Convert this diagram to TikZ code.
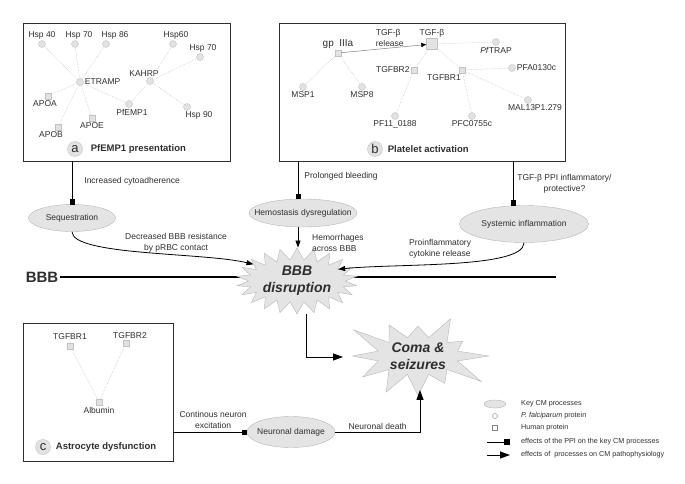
\documentclass[tikz,border=0pt]{standalone}
\usepackage{fontspec}
\setmainfont{Liberation Sans}
\usetikzlibrary{arrows.meta, positioning, shapes.geometric, shapes.symbols, calc}

\definecolor{nodegray}{HTML}{E2E2E2}
\definecolor{nodeedge}{HTML}{C2C2C2}
\definecolor{procgray}{HTML}{E4E4E4}
\definecolor{procedge}{HTML}{B5B5B5}
\definecolor{linkgray}{HTML}{BBBBBB}
\definecolor{inkgray}{HTML}{2E2E2E}

\newcommand{\smallfont}{\fontsize{8.5}{11}\selectfont}
\newcommand{\legendfont}{\fontsize{7.2}{8.5}\selectfont}

\begin{document}
\begin{tikzpicture}[x=1pt, y=-1pt,
    pf/.style={circle, fill=nodegray, draw=nodeedge, minimum size=7pt, inner sep=0pt},
    hu/.style={rectangle, fill=nodegray, draw=nodeedge, minimum size=6pt, inner sep=0pt},
    lbl/.style={font=\smallfont, text=inkgray, inner sep=1pt},
    ppi/.style={draw=linkgray, densely dotted, line width=0.5pt},
    panel/.style={draw=inkgray, line width=0.9pt, inner sep=0pt},
    tag/.style={circle, fill=nodegray, draw=nodeedge, minimum size=15pt, inner sep=0pt, font=\fontsize{13}{13}\selectfont, text=inkgray},
    title/.style={font=\fontsize{9.5}{11}\selectfont\bfseries, text=inkgray, inner sep=0pt},
    proc/.style={ellipse, fill=procgray, draw=procedge, inner sep=0pt},
    effect/.style={draw=black, line width=0.8pt, -{Square[length=5pt, width=5pt]}},
    cause/.style={draw=black, line width=0.8pt, -{Triangle[length=7pt, width=5pt]}},
    bigcause/.style={draw=black, line width=0.9pt, -{Triangle[length=10pt, width=7pt]}},
    burst/.style={starburst, fill=procgray, draw=procedge, font=\fontsize{14}{17}\selectfont\bfseries\itshape, text=inkgray, align=center, inner sep=0pt},
    legend/.style={font=\legendfont, text=inkgray, anchor=west, inner sep=0pt}
]
\useasboundingbox (0,0) rectangle (685,484);

% Panel a: PfEMP1 presentation
\node[panel, minimum width=207pt, minimum height=138pt] (pa) at (126.5,92) {};
\node[pf, label={[lbl]right:ETRAMP}] (etramp) at (80,82) {};
\node[pf, label={[lbl, xshift=-6pt]above:KAHRP}] (kahrp) at (150,81) {};
\node[pf, label={[lbl]above:Hsp 40}] (hsp40) at (42,44) {};
\node[pf, label={[lbl, xshift=4pt]above:Hsp 70}] (hsp70) at (75,44) {};
\node[pf, label={[lbl, xshift=9pt]above:Hsp 86}] (hsp86) at (106,44) {};
\node[pf, label={[lbl, xshift=3pt]above:Hsp60}] (hsp60) at (173,44) {};
\node[pf, label={[lbl, xshift=3pt]above:Hsp 70}] (hsp70b) at (200,57) {};
\node[pf, label={[lbl, xshift=12pt]below:Hsp 90}] (hsp90) at (187,107) {};
\node[pf, label={[lbl, xshift=3pt]below:PfEMP1}] (pfemp) at (129,104) {};
\node[hu, label={[lbl, xshift=-3pt]below:APOA}] (apoa) at (48,96) {};
\node[hu, label={[lbl]below:APOE}] (apoe) at (92,118) {};
\node[hu, label={[lbl, xshift=-7pt]below:APOB}] (apob) at (58,127) {};
\foreach \n in {hsp40, hsp70, hsp86, apoa, apob, apoe, pfemp}
    \draw[ppi] (etramp) -- (\n);
\foreach \n in {hsp60, hsp70b, hsp90, pfemp}
    \draw[ppi] (kahrp) -- (\n);
\node[tag] (taga) at (75,149) {a};
\node[title, right=8pt of taga] (titlea) {PfEMP1 presentation};

% Panel b: Platelet activation
\node[panel, minimum width=286pt, minimum height=138pt] (pb) at (422,92) {};
\node[hu, label={[lbl, font=\fontsize{10}{11}\selectfont]above:gp\ \ IIIa}] (gp3a) at (338,53) {};
\node[hu, minimum size=11pt, label={[lbl]above:TGF-β}] (tgfb) at (432,44) {};
\node[pf, label={[lbl]below:\textit{Pf}TRAP}] (pftrap) at (496,42) {};
\node[hu, label={[lbl]left:TGFBR2}] (tgfbr2) at (414,70) {};
\node[hu, label={[lbl, xshift=-18pt]below:TGFBR1}] (tgfbr1) at (462,70) {};
\node[pf, label={[lbl]right:PFA0130c}] (pfa) at (512,68) {};
\node[pf, label={[lbl]below:MSP1}] (msp1) at (303,87) {};
\node[pf, label={[lbl]below:MSP8}] (msp8) at (362,87) {};
\node[pf, label={[lbl]below:PF11\_0188}] (pf11) at (395,116) {};
\node[pf, label={[lbl]below:PFC0755c}] (pfc) at (472,116) {};
\node[pf, label={[lbl, xshift=7pt]below:MAL13P1.279}] (mal13) at (528,100) {};
\foreach \n in {msp1, msp8}
    \draw[ppi] (gp3a) -- (\n);
\foreach \n in {pftrap, tgfbr2, tgfbr1}
    \draw[ppi] (tgfb) -- (\n);
\draw[ppi] (tgfbr2) -- (pf11);
\foreach \n in {pfa, pfc, mal13}
    \draw[ppi] (tgfbr1) -- (\n);
\draw[draw=gray, line width=0.5pt, -{Triangle[length=5pt, width=4pt, color=black]}] (gp3a) -- (tgfb)
    node[lbl, midway, above=1pt, xshift=6pt, align=left] (relbl) {TGF-β\\release};
\node[tag] (tagb) at (375,149) {b};
\node[title, right=5pt of tagb] (titleb) {Platelet activation};

% Panel c: Astrocyte dysfunction
\node[panel, minimum width=150pt, minimum height=138pt] (pc) at (98,392) {};
\node[hu, label={[lbl, yshift=2pt]above:TGFBR1}] (ctgfbr1) at (70,346) {};
\node[hu, label={[lbl, xshift=4pt]above:TGFBR2}] (ctgfbr2) at (126,343) {};
\node[hu, label={[lbl, yshift=-1pt]below:Albumin}] (albumin) at (99,402) {};
\foreach \n in {ctgfbr1, ctgfbr2}
    \draw[ppi] (albumin) -- (\n);
\node[tag] (tagc) at (43,447) {c};
\node[title, right=5pt of tagc] (titlec) {Astrocyte dysfunction};

% Key CM processes
\node[proc, minimum width=87pt, minimum height=27pt, label={[lbl]center:Sequestration}] (seq) at (72,218) {};
\node[proc, minimum width=108pt, minimum height=28pt, label={[lbl]center:Hemostasis dysregulation}] (hemo) at (303,213) {};
\node[proc, minimum width=129pt, minimum height=37pt, label={[lbl]center:Systemic inflammation}] (sys) at (524,224) {};
\node[proc, minimum width=88pt, minimum height=31pt, label={[lbl]center:Neuronal damage}] (ndmg) at (291,432) {};
\coordinate (hemotop) at ([xshift=-5pt]hemo.north);
\coordinate (hemobot) at ([xshift=-5pt]hemo.south);
\coordinate (systop) at ([xshift=-11pt]sys.north);

% Blood brain barrier
\node[font=\fontsize{15}{15}\selectfont\bfseries, text=inkgray, inner sep=0pt] (bbb) at (42,277) {BBB};
\coordinate (bbbend) at (556,277);
\draw[line width=2.6pt] ([xshift=2pt]bbb.east) -- (bbbend);
\node[burst, starburst points=22, starburst point height=12pt, random starburst=0,
    minimum width=112pt, minimum height=66pt] (disr) at (297,281) {BBB\\disruption};
\node[burst, starburst points=12, starburst point height=34pt, random starburst=3,
    minimum width=150pt, minimum height=105pt] (coma) at (418,356) {Coma \&\\seizures};
\coordinate (comain) at (343,357);

% Effects of the PPI on the processes
\draw[effect] (pa.south -| seq.north) -- (seq.north)
    node[lbl, midway, right=11pt, yshift=2pt] (cytolbl) {Increased cytoadherence};
\draw[effect] (pb.south -| hemotop) -- (hemotop)
    node[lbl, midway, right=5pt, yshift=4pt] (bleedlbl) {Prolonged bleeding};
\draw[effect] (pb.south -| systop) -- (systop)
    node[lbl, midway, right=3pt, align=center] (tgflbl) {TGF-β PPI inflammatory/\\protective?};
\draw[effect] (pc.east |- ndmg.west) -- (ndmg.west)
    node[lbl, midway, above=2pt, xshift=3pt, align=center] (exclbl) {Continous neuron\\excitation};

% Effects of the processes on CM
\draw[cause] (seq.south) .. controls +(0,24) and +(-50,-12) .. (disr.159);
\node[lbl, align=center] (seqlbl) at (176,243) {Decreased BBB resistance\\by pRBC contact};
\draw[cause] (hemobot) -- (hemobot |- disr.north);
\node[lbl, align=left, anchor=west] (hemolbl) at (311,242.5) {Hemorrhages\\across BBB};
\draw[cause] (sys.south) .. controls +(0,26) and +(60,-6) .. (disr.16);
\node[lbl, align=left, anchor=west] (syslbl) at (408,248.5) {Proinflammatory\\cytokine release};
\draw[bigcause] ([xshift=9pt]disr.south) |- (comain);
\draw[bigcause] (ndmg.east) -| ([xshift=2pt,yshift=6pt]coma.south)
    node[lbl, pos=0.25, above=1pt] (deathlbl) {Neuronal death};

% Legend
\node[proc, minimum width=22pt, minimum height=8pt] (lgproc) at (495,404) {};
\node[legend] (lgproctxt) at (521,404) {Key CM processes};
\node[pf, fill=white, draw=gray, minimum size=5pt] (lgpf) at (495,416) {};
\node[legend] (lgpftxt) at (521,416) {\textit{P. falciparum} protein};
\node[hu, fill=white, draw=gray, minimum size=5pt] (lghu) at (495,428) {};
\node[legend] (lghutxt) at (521,428) {Human protein};
\coordinate (lgeff) at (487,442);
\draw[effect, -{Square[length=6pt, width=6pt]}] (lgeff) -- ++(23,0);
\node[legend] (lgefftxt) at (521,442) {effects of the PPI on the key CM processes};
\coordinate (lgcause) at (487,455);
\draw[bigcause] (lgcause) -- ++(23,0);
\node[legend] (lgcausetxt) at (521,455) {effects of\ \ processes on CM pathophysiology};

\end{tikzpicture}
\end{document}
